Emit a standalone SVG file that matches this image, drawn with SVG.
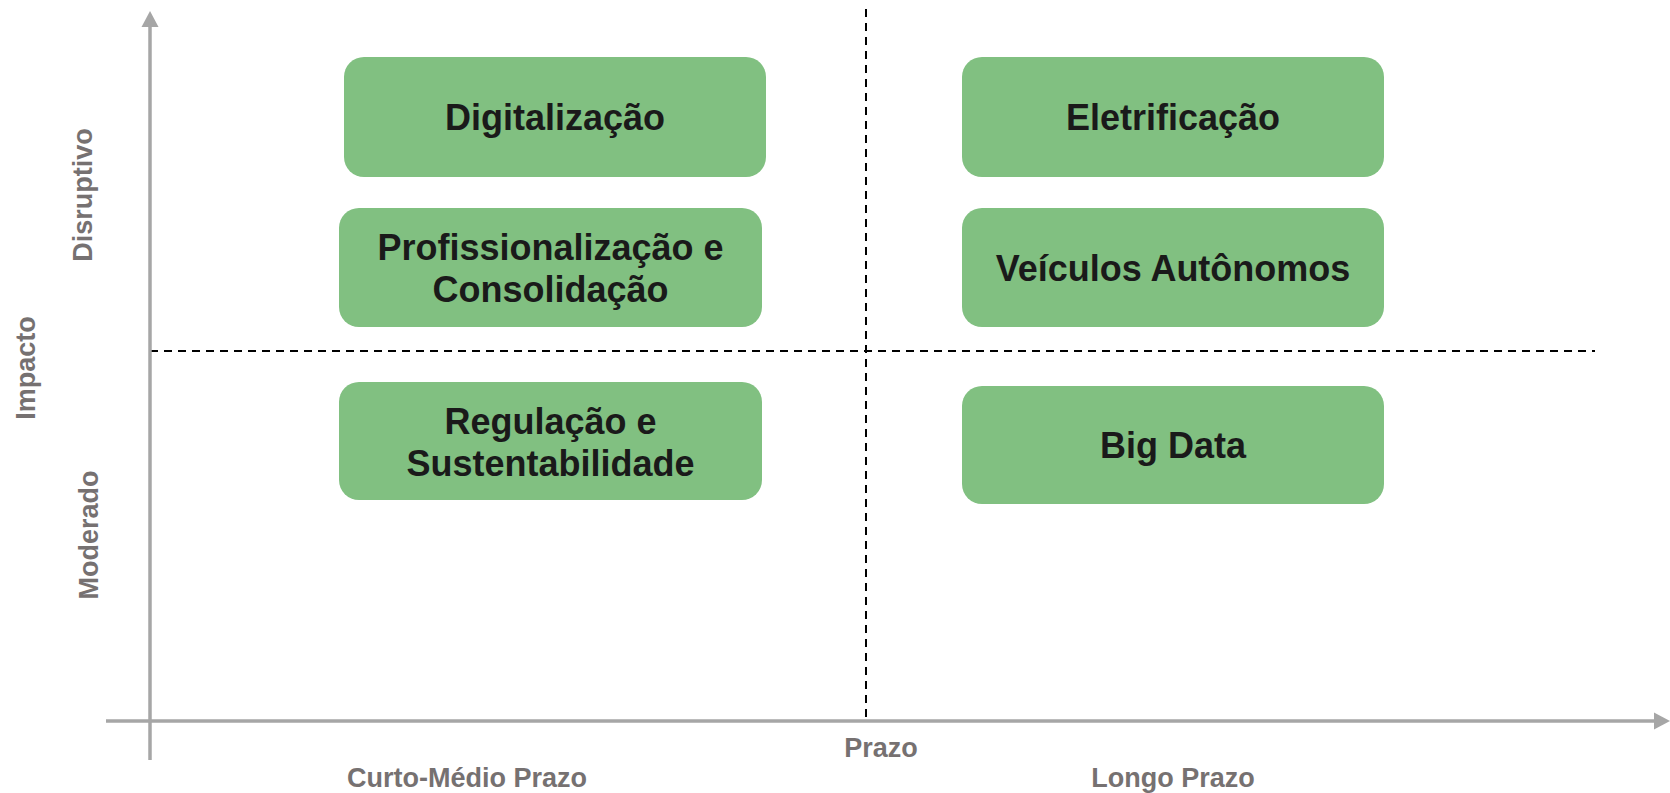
<svg xmlns="http://www.w3.org/2000/svg" width="1670" height="793" viewBox="0 0 1670 793">
<defs>
<style>
.box{fill:#81C081;}
.bt{font-family:"Liberation Sans",Arial,sans-serif;font-weight:bold;font-size:36px;fill:#1a1a1a;text-anchor:middle;}
.ax{font-family:"Liberation Sans",Arial,sans-serif;font-weight:bold;font-size:27px;fill:#767171;text-anchor:middle;}
.axis{stroke:#A6A6A6;stroke-width:3.5;fill:none;}
.dash{stroke:#000;stroke-width:2;stroke-dasharray:8 6;fill:none;}
</style>
</defs>
<rect width="1670" height="793" fill="#fff"/>
<g id="connectors">
<line class="dash" x1="866" y1="9" x2="866" y2="720"/>
<line class="dash" x1="150" y1="351" x2="1595" y2="351"/>
<line class="axis" x1="150" y1="760" x2="150" y2="24"/>
<polygon points="150,11 141.5,27 158.5,27" fill="#A6A6A6"/>
<line class="axis" x1="106" y1="721" x2="1656" y2="721"/>
<polygon points="1670,721 1654,712.5 1654,729.5" fill="#A6A6A6"/>
</g>
<g id="axis-labels">
<text class="ax" transform="translate(35,368) rotate(-90)">Impacto</text>
<text class="ax" transform="translate(92,195) rotate(-90)">Disruptivo</text>
<text class="ax" transform="translate(98,535) rotate(-90)">Moderado</text>
<text class="ax" x="881" y="757">Prazo</text>
<text class="ax" x="467" y="787">Curto-Médio Prazo</text>
<text class="ax" x="1173" y="787">Longo Prazo</text>
</g>
<g id="digitalizacao">
<rect class="box" x="344" y="57" width="422" height="120" rx="20"/>
<text class="bt" x="555" y="130">Digitalização</text>
</g>
<g id="eletrificacao">
<rect class="box" x="962" y="57" width="422" height="120" rx="20"/>
<text class="bt" x="1173" y="130">Eletrificação</text>
</g>
<g id="profissionalizacao">
<rect class="box" x="339" y="208" width="423" height="119" rx="20"/>
<text class="bt" x="550.5" y="260">Profissionalização e</text>
<text class="bt" x="550.5" y="302">Consolidação</text>
</g>
<g id="veiculos">
<rect class="box" x="962" y="208" width="422" height="119" rx="20"/>
<text class="bt" x="1173" y="281">Veículos Autônomos</text>
</g>
<g id="regulacao">
<rect class="box" x="339" y="382" width="423" height="118" rx="20"/>
<text class="bt" x="550.5" y="434">Regulação e</text>
<text class="bt" x="550.5" y="476">Sustentabilidade</text>
</g>
<g id="bigdata">
<rect class="box" x="962" y="386" width="422" height="118" rx="20"/>
<text class="bt" x="1173" y="458">Big Data</text>
</g>
</svg>
